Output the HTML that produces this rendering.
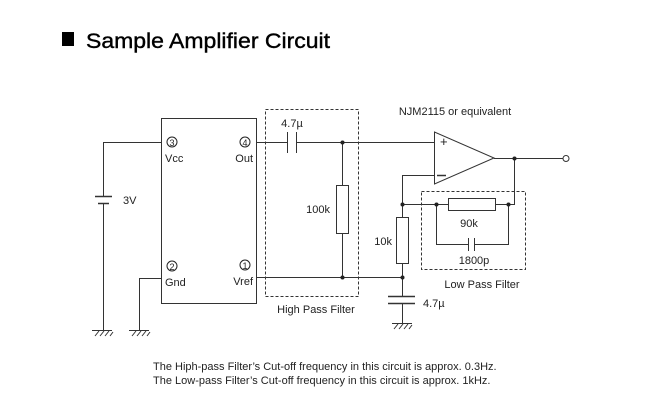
<!DOCTYPE html>
<html><head><meta charset="utf-8"><style>
html,body{margin:0;padding:0;background:#fff;}
svg{display:block;font-family:"Liberation Sans",sans-serif;}
</style></head><body>
<svg width="659" height="405" viewBox="0 0 659 405" xmlns="http://www.w3.org/2000/svg">
<rect x="62" y="32" width="12" height="14" fill="#000"/>
<text x="86" y="48" font-size="21" fill="#000" stroke="#000" stroke-width="0.4" textLength="244" lengthAdjust="spacingAndGlyphs">Sample Amplifier Circuit</text>
<g stroke="#333" stroke-width="1" fill="none">
<rect x="161.5" y="118.5" width="95" height="185" fill="#fff"/>
<polyline points="161,142.5 103.5,142.5 103.5,196"/>
<polyline points="103.5,203 103.5,330"/>
<line x1="95" y1="196.5" x2="112" y2="196.5" stroke-width="1.5"/>
<line x1="98" y1="203.5" x2="109" y2="203.5" stroke-width="1.5"/>
<line x1="92" y1="330.5" x2="112" y2="330.5"/>
<path d="M95 336 L99 331 M100 336 L104 331 M105 336 L109 331 M110 336 L113 332"/>
<polyline points="161,278.5 139.5,278.5 139.5,330"/>
<line x1="129" y1="330.5" x2="149" y2="330.5"/>
<path d="M132 336 L136 331 M137 336 L141 331 M142 336 L146 331 M147 336 L150 332"/>
<line x1="256" y1="142.5" x2="287.5" y2="142.5"/>
<line x1="287.5" y1="132" x2="287.5" y2="153"/>
<line x1="296.5" y1="132" x2="296.5" y2="153"/>
<line x1="296.5" y1="142.5" x2="434" y2="142.5"/>
<line x1="342.5" y1="142" x2="342.5" y2="185"/>
<rect x="336.5" y="185.5" width="12" height="48"/>
<line x1="342.5" y1="234" x2="342.5" y2="277"/>
<line x1="256" y1="277.5" x2="402.5" y2="277.5"/>
<rect x="265.5" y="109.5" width="93" height="187" stroke-dasharray="3,2"/>
<polygon points="434.5,132 434.5,184 494,158" fill="#fff"/>
<line x1="494" y1="158.5" x2="563" y2="158.5"/>
<circle cx="566" cy="158.5" r="3" fill="#fff"/>
<polyline points="434,175.5 402.5,175.5 402.5,217"/>
<rect x="396.5" y="217.5" width="12" height="46"/>
<line x1="402.5" y1="264" x2="402.5" y2="296"/>
<line x1="388" y1="296.5" x2="415" y2="296.5" stroke-width="1.5"/>
<line x1="388" y1="303.5" x2="415" y2="303.5" stroke-width="1.5"/>
<line x1="402.5" y1="304" x2="402.5" y2="323"/>
<line x1="392" y1="323.5" x2="412" y2="323.5"/>
<path d="M394 329 L398 324 M399 329 L403 324 M404 329 L408 324 M409 329 L412 325"/>
<line x1="402.5" y1="204.5" x2="448" y2="204.5"/>
<rect x="448.5" y="198.5" width="47" height="12"/>
<polyline points="496,204.5 514.5,204.5 514.5,158"/>
<polyline points="436.5,204 436.5,244.5 468.5,244.5"/>
<polyline points="474.5,244.5 508.5,244.5 508.5,204"/>
<line x1="468.5" y1="238" x2="468.5" y2="251"/>
<line x1="474.5" y1="238" x2="474.5" y2="251"/>
<rect x="421.5" y="191.5" width="104" height="78" stroke-dasharray="3,2"/>
<line x1="437" y1="175.5" x2="446" y2="175.5" stroke-width="1.5"/>
</g>
<g fill="#222">
<circle cx="342.5" cy="142.5" r="2"/><circle cx="342.5" cy="277.5" r="2"/>
<circle cx="402.5" cy="277.5" r="2"/><circle cx="402.5" cy="204.5" r="2"/>
<circle cx="436.5" cy="204.5" r="2"/><circle cx="508.5" cy="204.5" r="2"/>
<circle cx="514.5" cy="158.5" r="2"/>
</g>
<g font-size="11" fill="#222">
<g fill="none" stroke="#222"><circle cx="172" cy="142" r="5"/><circle cx="245" cy="142" r="5"/><circle cx="172" cy="266" r="5"/><circle cx="245" cy="265" r="5"/></g>
<text x="172" y="146" font-size="9" text-anchor="middle">3</text>
<text x="245" y="146" font-size="9" text-anchor="middle">4</text>
<text x="172" y="270" font-size="9" text-anchor="middle">2</text>
<text x="245" y="269" font-size="9" text-anchor="middle">1</text>
<text x="165" y="162">Vcc</text>
<text x="253" y="162" text-anchor="end">Out</text>
<text x="165" y="286">Gnd</text>
<text x="253" y="285" text-anchor="end">Vref</text>
<text x="123" y="204">3V</text>
<text x="292" y="127" text-anchor="middle">4.7µ</text>
<text x="330" y="213" text-anchor="end">100k</text>
<text x="316" y="313" text-anchor="middle">High Pass Filter</text>
<text x="455" y="115" text-anchor="middle">NJM2115 or equivalent</text>
<text x="440" y="146" font-size="13">+</text>
<text x="469" y="227" text-anchor="middle">90k</text>
<text x="474" y="264" text-anchor="middle">1800p</text>
<text x="482" y="288" text-anchor="middle">Low Pass Filter</text>
<text x="392" y="245" text-anchor="end">10k</text>
<text x="423" y="307">4.7µ</text>
<text x="153" y="370">The Hiph-pass Filter’s Cut-off frequency in this circuit is approx. 0.3Hz.</text>
<text x="153" y="384">The Low-pass Filter’s Cut-off frequency in this circuit is approx. 1kHz.</text>
</g>
</svg>
</body></html>
